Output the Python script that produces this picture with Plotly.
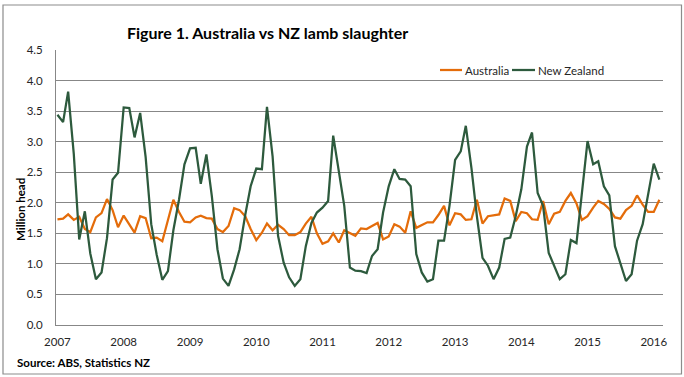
import pandas as pd
import plotly.graph_objects as go

# Monthly data, Jan 2007 - Feb 2016 (million head)
months = pd.date_range("2007-01-01", periods=110, freq="MS")

australia = [
    1.73, 1.74, 1.81, 1.72, 1.77, 1.57, 1.52, 1.76, 1.83, 2.06, 1.88, 1.60,   # 2007
    1.79, 1.65, 1.51, 1.78, 1.75, 1.42, 1.43, 1.37, 1.72, 2.05, 1.85, 1.69,   # 2008
    1.68, 1.76, 1.79, 1.75, 1.74, 1.57, 1.52, 1.62, 1.91, 1.88, 1.78, 1.57,   # 2009
    1.39, 1.51, 1.66, 1.55, 1.64, 1.57, 1.47, 1.47, 1.52, 1.66, 1.77, 1.50,   # 2010
    1.33, 1.37, 1.50, 1.35, 1.55, 1.50, 1.46, 1.58, 1.57, 1.62, 1.67, 1.40,   # 2011
    1.45, 1.65, 1.61, 1.51, 1.86, 1.59, 1.63, 1.68, 1.68, 1.80, 1.95, 1.63,   # 2012
    1.83, 1.81, 1.72, 1.73, 2.05, 1.66, 1.78, 1.80, 1.81, 2.07, 2.03, 1.70,   # 2013
    1.85, 1.83, 1.73, 1.72, 2.03, 1.65, 1.82, 1.85, 2.03, 2.16, 1.99, 1.72,   # 2014
    1.78, 1.92, 2.03, 1.98, 1.90, 1.76, 1.74, 1.88, 1.95, 2.12, 1.97, 1.85,   # 2015
    1.85, 2.05,                                                               # 2016
]

new_zealand = [
    3.44, 3.32, 3.82, 2.80, 1.40, 1.86, 1.17, 0.75, 0.86, 1.42, 2.38, 2.49,   # 2007
    3.56, 3.55, 3.07, 3.47, 2.75, 1.65, 1.15, 0.74, 0.88, 1.55, 2.05, 2.63,   # 2008
    2.89, 2.90, 2.31, 2.79, 2.11, 1.24, 0.76, 0.64, 0.91, 1.24, 1.80, 2.27,   # 2009
    2.56, 2.55, 3.57, 2.76, 1.46, 1.02, 0.78, 0.64, 0.75, 1.29, 1.67, 1.84,   # 2010
    1.92, 2.03, 3.10, 2.49, 1.95, 0.94, 0.89, 0.88, 0.85, 1.13, 1.24, 1.84,   # 2011
    2.27, 2.55, 2.39, 2.38, 2.27, 1.16, 0.86, 0.71, 0.75, 1.38, 1.38, 1.95,   # 2012
    2.70, 2.84, 3.26, 2.57, 1.78, 1.10, 0.97, 0.75, 0.94, 1.41, 1.43, 1.78,   # 2013
    2.22, 2.92, 3.15, 2.16, 1.95, 1.18, 0.97, 0.75, 0.83, 1.39, 1.34, 2.22,   # 2014
    3.01, 2.63, 2.68, 2.27, 2.12, 1.29, 1.02, 0.72, 0.83, 1.38, 1.65, 2.16,   # 2015
    2.64, 2.38,                                                               # 2016
]

year_labels = [str(y) for y in range(2007, 2017)]
year_ticks = [f"{y}-01-01" for y in range(2007, 2017)]
y_ticks = [0.0, 0.5, 1.0, 1.5, 2.0, 2.5, 3.0, 3.5, 4.0, 4.5]

ORANGE = "#E46C0A"
GREEN = "#2D5A3D"
GRID = "#878787"
TEXT = "#262626"
FONT = "Lato"

W, H = 684, 377
L, R, T, B = 56, 21, 50, 52
PW, PH = W - L - R, H - T - B


def px_x(px):
    return (px - L) / PW


def px_y(py):
    return (H - B - py) / PH


fig = go.Figure()
fig.add_trace(go.Scatter(x=months, y=australia, name="Australia", mode="lines",
                         line=dict(color=ORANGE, width=2.25), showlegend=False))
fig.add_trace(go.Scatter(x=months, y=new_zealand, name="New Zealand", mode="lines",
                         line=dict(color=GREEN, width=2.25), showlegend=False))

fig.update_layout(
    width=W, height=H,
    margin=dict(l=L, r=R, t=T, b=B),
    paper_bgcolor="white", plot_bgcolor="white",
    font=dict(family=FONT, size=12, color=TEXT),
    xaxis=dict(
        range=["2006-12-24", "2016-02-21"],
        tickmode="array", tickvals=year_ticks, ticktext=year_labels,
        showgrid=False, zeroline=False,
        showline=True, linecolor=GRID, linewidth=1,
        ticks="", ticklabelstandoff=6,
        tickfont=dict(size=11.5, color=TEXT),
    ),
    yaxis=dict(
        range=[0, 4.5], tickmode="array", tickvals=y_ticks,
        tickformat=".1f",
        showgrid=True, gridcolor=GRID, gridwidth=1,
        zeroline=False,
        showline=True, linecolor=GRID, linewidth=1,
        ticks="", ticklabelstandoff=10,
        tickfont=dict(size=11.5, color=TEXT),
    ),
)

annotations = [
    dict(text="<b>Figure 1. Australia vs NZ lamb slaughter</b>",
         x=px_x(267.5), y=px_y(32), xref="paper", yref="paper",
         xanchor="center", yanchor="middle", showarrow=False,
         font=dict(size=16, family=FONT, color="black")),
    dict(text="<b>Million head</b>", textangle=-90,
         x=px_x(20), y=px_y(210), xref="paper", yref="paper",
         xanchor="center", yanchor="middle", showarrow=False,
         font=dict(size=11.5, family=FONT, color="black")),
    dict(text="<b>Source: ABS, Statistics NZ</b>",
         x=px_x(15), y=px_y(362.5), xref="paper", yref="paper",
         xanchor="left", yanchor="middle", showarrow=False,
         font=dict(size=11.5, family=FONT, color="black")),
    dict(text="Australia",
         x=px_x(463), y=px_y(70), xref="paper", yref="paper",
         xanchor="left", yanchor="middle", showarrow=False,
         font=dict(size=11.5, family=FONT, color=TEXT)),
    dict(text="New Zealand",
         x=px_x(536), y=px_y(70), xref="paper", yref="paper",
         xanchor="left", yanchor="middle", showarrow=False,
         font=dict(size=11.5, family=FONT, color=TEXT)),
]

shapes = [
    # outer chart border
    dict(type="rect", xref="paper", yref="paper",
         x0=px_x(3), x1=px_x(681.5), y0=px_y(374), y1=px_y(5),
         line=dict(color="#8C8C8C", width=1.2), fillcolor="rgba(0,0,0,0)"),
    # legend samples
    dict(type="line", xref="paper", yref="paper",
         x0=px_x(440), x1=px_x(462), y0=px_y(70), y1=px_y(70),
         line=dict(color=ORANGE, width=2.25)),
    dict(type="line", xref="paper", yref="paper",
         x0=px_x(512), x1=px_x(535), y0=px_y(70), y1=px_y(70),
         line=dict(color=GREEN, width=2.25)),
]

fig.update_layout(annotations=annotations, shapes=shapes)
fig.write_html("out.html",
               config={"displayModeBar": False},
               post_script="document.body.style.margin='0';document.body.style.overflow='hidden';")
